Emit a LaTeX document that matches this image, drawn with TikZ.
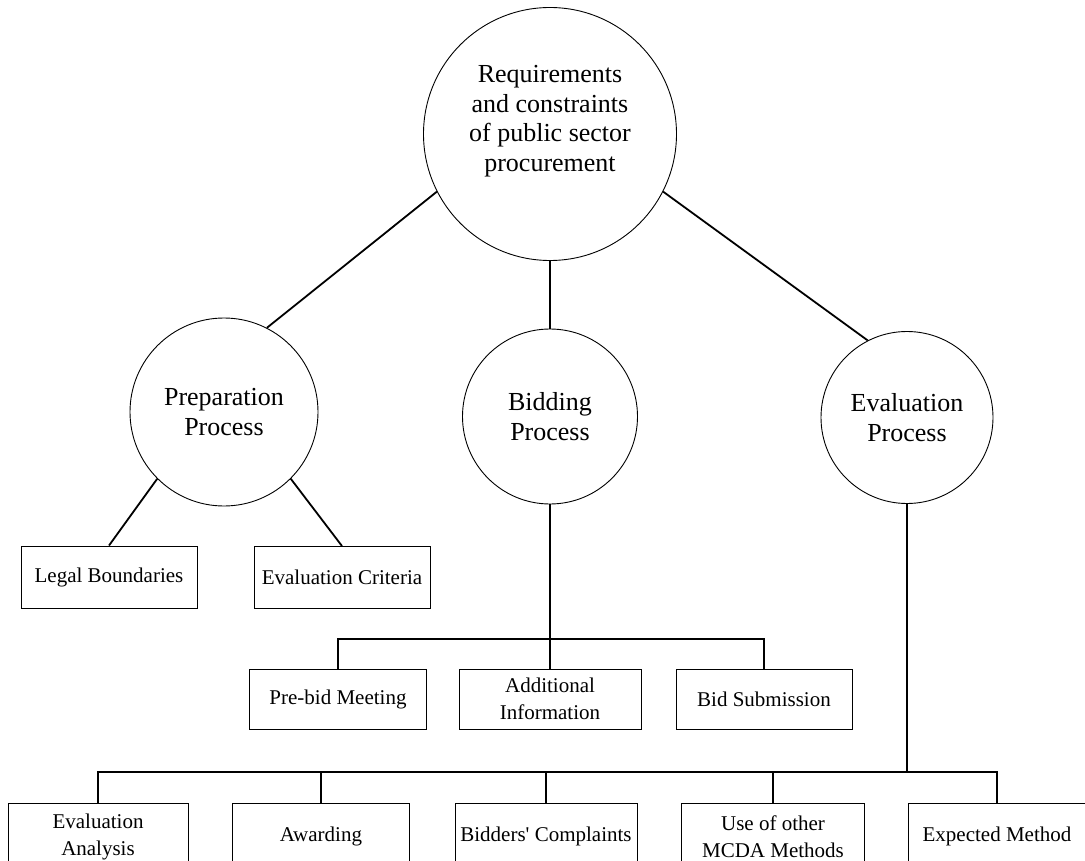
\documentclass[tikz,border=0pt]{standalone}
\usepackage{fontspec}
\setmainfont{Liberation Serif}
\newfontfamily\plainquotes{Liberation Serif}[Ligatures=TeXOff]
\begin{document}
\begin{tikzpicture}[x=1pt,y=-1pt,
  bubble/.style={circle,draw,line width=0.9pt,inner sep=0pt,align=center,
                 font=\fontsize{26}{29.5}\selectfont},
  bubbletext/.style={inner sep=0pt,align=center,font=\fontsize{26}{29.5}\selectfont},
  leaf/.style={rectangle,draw,line width=0.9pt,inner sep=0pt,align=center,
               font=\fontsize{21}{27}\selectfont},
  link/.style={line width=1.8pt}]
\useasboundingbox (0,0) rectangle (1085,861);
\clip (0,0) rectangle (1085,861);
\fill[white] (0,0) rectangle (1085,861);

% process circles
\node[bubble,minimum size=253pt] (req) at (550,134) {};
\node[bubbletext] (reqtxt) at (550,121) {Requirements\\and constraints\\of public sector\\procurement};
\node[bubble,minimum size=188pt] (prep) at (224,412) {Preparation\\Process};
\node[bubble,minimum size=175pt] (bid) at (550,416.5) {Bidding\\Process};
\node[bubble,minimum size=172pt] (eval) at (907,417.5) {Evaluation\\Process};

% preparation items
\node[leaf,minimum width=176pt,minimum height=62pt] (legal) at (109,577) {Legal Boundaries};
\node[leaf,minimum width=176pt,minimum height=62pt] (crit) at (342,577.5) {Evaluation Criteria};

% bidding items
\node[leaf,minimum width=177pt,minimum height=60pt] (prebid) at (338,699) {Pre-bid Meeting};
\node[leaf,minimum width=182pt,minimum height=60pt] (addinfo) at (550,699) {Additional\\Information};
\node[leaf,minimum width=176pt,minimum height=60pt] (bidsub) at (764,699) {Bid Submission};

% evaluation items
\node[leaf,minimum width=180pt,minimum height=67pt] (evalan) at (98,836.5) {Evaluation\\Analysis};
\node[leaf,minimum width=177pt,minimum height=67pt] (award) at (321,836.5) {Awarding};
\node[leaf,minimum width=182pt,minimum height=67pt] (complaints) at (546,836.5) {\plainquotes Bidders' Complaints};
\node[leaf,minimum width=183pt,minimum height=67pt] (mcda) at (773,836.5) {Use of other\\MCDA Methods};
\node[leaf,minimum width=178pt,minimum height=67pt] (expected) at (997,836.5) {Expected Method};

% connectors
\draw[link] (req.207) -- (prep.63);
\draw[link] (req.south) -- (bid.north);
\draw[link] (req.333) -- (eval.117);
\draw[link] (prep.225) -- (legal.north);
\draw[link] (prep.315) -- (crit.north);

\coordinate (bidbus) at (550,639);
\draw[link] (bid.south) -- (bidbus);
\draw[link] (prebid.north) |- (bidbus) -| (bidsub.north);
\draw[link] (addinfo.north) -- (addinfo.north |- bidbus);

\coordinate (evbus) at (907,772);
\draw[link] (eval.south) -- (evbus);
\draw[link] (evalan.north) |- (evbus) -| (expected.north);
\draw[link] (award.north) -- (award.north |- evbus);
\draw[link] (complaints.north) -- (complaints.north |- evbus);
\draw[link] (mcda.north) -- (mcda.north |- evbus);
\end{tikzpicture}
\end{document}
